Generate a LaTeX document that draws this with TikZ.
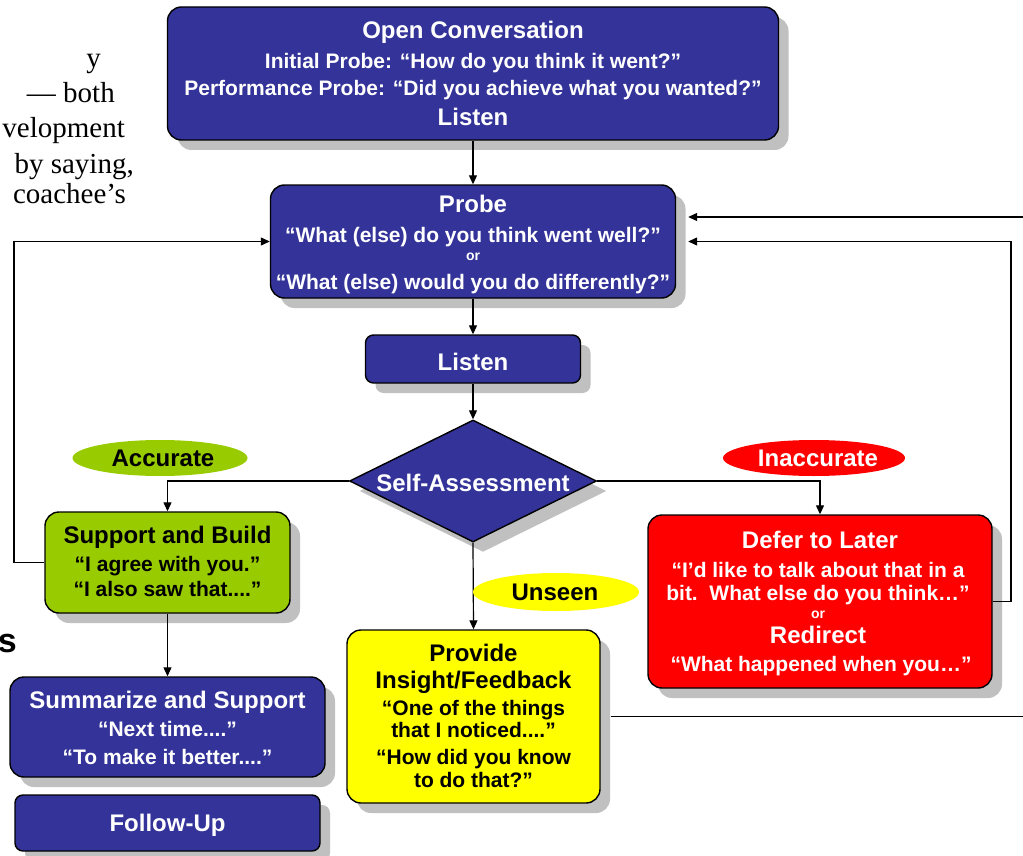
\documentclass[tikz,border=0pt]{standalone}
\usepackage{fontspec}
\setmainfont{Liberation Sans}
\newfontfamily\fragserif{Liberation Serif}
\usetikzlibrary{shapes.geometric,shadows,arrows.meta,calc}
\definecolor{cblue}{HTML}{333399}
\definecolor{cgreen}{HTML}{99CC00}
\definecolor{cred}{HTML}{FF0000}
\definecolor{cyellow}{HTML}{FFFF00}
\definecolor{shadowgray}{HTML}{C0C0C0}
\tikzset{
  box/.style={draw=black, line width=1.4pt, rounded corners=14pt, inner sep=0pt,
    drop shadow={shadow xshift=10pt, shadow yshift=-10pt, fill=shadowgray, opacity=1}},
  smallbox/.style={box, rounded corners=8pt},
  tag/.style={ellipse, inner sep=0pt},
  T/.style={font=\fontsize{24}{28}\selectfont\bfseries, anchor=base, yshift=-8.6pt, inner sep=0pt},
  Q/.style={font=\fontsize{21}{24}\selectfont\bfseries, anchor=base, yshift=-7.5pt, inner sep=0pt},
  O/.style={font=\fontsize{14}{16}\selectfont\bfseries, anchor=base, yshift=-3.6pt, inner sep=0pt},
  frag/.style={font=\fontsize{29}{33}\fragserif, anchor=base east, inner sep=0pt},
  conn/.style={line width=1.2pt, -{Triangle[length=9pt,width=8pt]}},
  plain/.style={line width=1.2pt},
}
\begin{document}
\begin{tikzpicture}[x=1pt,y=-1pt]
\useasboundingbox (0,0) rectangle (1023,856);

% fragments of surrounding page text
\node[frag] (f1) at (101,68) {y};
\node[frag] (f2) at (115,103) {— both};
\node[frag] (f3) at (125,138) {velopment};
\node[frag] (f4) at (134,173) {by saying,};
\node[frag] (f5) at (126,203) {coachee’s};
\node[font=\fontsize{34}{38}\selectfont\bfseries, anchor=base east, inner sep=0pt] (f6) at (17,652) {s};

% boxes
\node[box, fill=cblue, minimum width=611pt, minimum height=133pt] (open) at (473,73.5) {};
\node[box, fill=cblue, minimum width=405pt, minimum height=113pt] (probe) at (473,241.5) {};
\node[smallbox, fill=cblue, minimum width=215pt, minimum height=48pt] (listen) at (473,359) {};
\node[diamond, draw=black, line width=1.4pt, fill=cblue, inner sep=0pt, minimum width=247pt, minimum height=122pt,
  drop shadow={shadow xshift=10pt, shadow yshift=-10pt, fill=shadowgray, opacity=1}] (self) at (473,481) {};
\node[box, fill=cgreen, minimum width=245pt, minimum height=101pt] (support) at (167.5,562.5) {};
\node[box, fill=cred, minimum width=344pt, minimum height=173pt] (defer) at (820,601.5) {};
\node[box, fill=cyellow, minimum width=253pt, minimum height=173pt] (prov) at (473.5,716.5) {};
\node[box, fill=cblue, minimum width=315pt, minimum height=100pt] (summ) at (167.5,727) {};
\node[smallbox, fill=cblue, minimum width=305pt, minimum height=56pt] (follow) at (167.5,823) {};

% connectors
\draw[conn] (open.south) -- (probe.north);
\draw[conn] (probe.south) -- (listen.north);
\draw[conn] (listen.south) -- (self.north);
\draw[conn] (self.west) -| (support.north);
\draw[conn] (self.east) -| (defer.north);
\draw[conn] (self.south) -- (prov.north);
\draw[conn] (support.south) -- (summ.north);
\coordinate (lbend) at (14,562.5);
\draw[conn] (support.west) -- (lbend) |- (probe.west);
\coordinate (rbend) at (1011,601.5);
\draw[conn] (defer.east) -- (rbend) |- ($(probe.east)+(12,0)$);
\coordinate (rin) at (1023,217);
\draw[conn] (rin) -- ($(rin -| probe.east)+(12,0)$);
\coordinate (rout) at (1023,716.5);
\draw[plain] ($(prov.east)+(10,0)$) -- (rout);

% tags
\node[tag, fill=cgreen, minimum width=175pt, minimum height=36pt] (acc) at (160,458) {};
\node[tag, fill=cred, minimum width=182pt, minimum height=36pt] (inacc) at (814,458) {};
\node[tag, fill=cyellow, minimum width=166pt, minimum height=38pt] (unseen) at (556,592) {};
\node[T] (acc-t) at (163,458) {Accurate};
\node[T, text=white] (inacc-t) at (818,458) {Inaccurate};
\node[T] (unseen-t) at (555,592) {Unseen};

% texts
\begin{scope}[every node/.append style={text=white}]
\node[T] (open-t) at (473,30) {Open Conversation};
\node[Q] (open-q1) at (473,61) {Initial Probe: “How do you think it went?”};
\node[Q] (open-q2) at (473,88) {Performance Probe: “Did you achieve what you wanted?”};
\node[T] (open-l) at (473,117) {Listen};

\node[T] (probe-t) at (473,204) {Probe};
\node[Q] (probe-q1) at (473,235) {“What (else) do you think went well?”};
\node[O] (probe-or) at (473,257) {or};
\node[Q] (probe-q2) at (473,282) {“What (else) would you do differently?”};

\node[T] (listen-t) at (473,362) {Listen};
\node[T] (self-t) at (473,483) {Self-Assessment};

\node[T] (defer-t) at (820,540) {Defer to Later};
\node[Q] (defer-q1) at (818,570) {“I’d like to talk about that in a};
\node[Q] (defer-q2) at (818,593) {bit.\ \ What else do you think…”};
\node[O] (defer-or) at (818,615) {or};
\node[T] (defer-r) at (818,635) {Redirect};
\node[Q] (defer-q3) at (821,664) {“What happened when you…”};

\node[T] (summ-t) at (167.5,700) {Summarize and Support};
\node[Q] (summ-q1) at (167.5,729) {“Next time....”};
\node[Q] (summ-q2) at (167.5,757) {“To make it better....”};
\node[T] (follow-t) at (167.5,823) {Follow-Up};
\end{scope}

\node[T] (support-t) at (167.5,535) {Support and Build};
\node[Q] (support-q1) at (167.5,564) {“I agree with you.”};
\node[Q] (support-q2) at (167.5,589) {“I also saw that....”};

\node[T] (prov-t1) at (473.5,653) {Provide};
\node[T] (prov-t2) at (473.5,680) {Insight/Feedback};
\node[Q] (prov-q1) at (473.5,708) {“One of the things};
\node[Q] (prov-q2) at (473.5,730) {that I noticed....”};
\node[Q] (prov-q3) at (473.5,757) {“How did you know};
\node[Q] (prov-q4) at (473.5,780) {to do that?”};
\end{tikzpicture}
\end{document}
